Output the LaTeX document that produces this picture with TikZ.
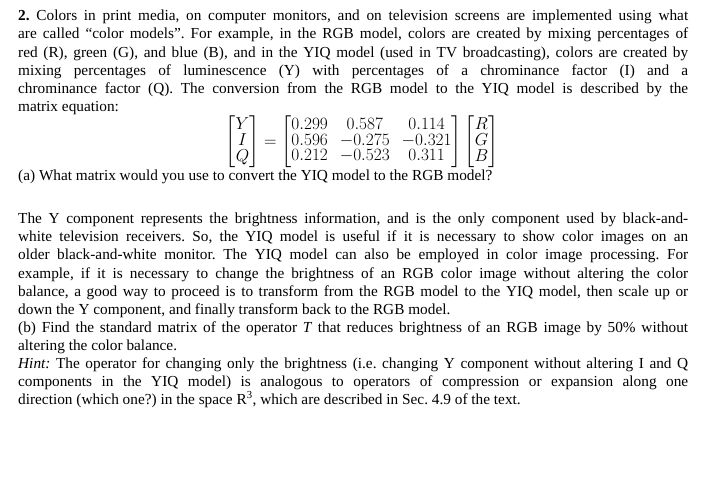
\documentclass[tikz,border=0pt]{standalone}
\usepackage{amsmath}
\usepackage{fontspec}
\setmainfont{Liberation Serif}
\frenchspacing
\begin{document}
\begin{tikzpicture}[x=1pt,y=1pt,
  ln/.style={anchor=base west,inner sep=0pt,font=\fontsize{15.3}{17}\selectfont\frenchspacing}]
\useasboundingbox (0,0) rectangle (714,-489);
\newcommand{\J}[1]{\makebox[670pt][s]{#1}}
\node[ln] (l1) at (18,-21) {\J{\textbf{2.} Colors in print media, on computer monitors, and on television screens are implemented using what}};
\node[ln] (l2) at (18,-39) {\J{are called “color models”. For example, in the RGB model, colors are created by mixing percentages of}};
\node[ln] (l3) at (18,-57.5) {\J{red (R), green (G), and blue (B), and in the YIQ model (used in TV broadcasting), colors are created by}};
\node[ln] (l4) at (18,-76) {\J{mixing percentages of luminescence (Y) with percentages of a chrominance factor (I) and a}};
\node[ln] (l5) at (18,-94) {\J{chrominance factor (Q). The conversion from the RGB model to the YIQ model is described by the}};
\node[ln] (l6) at (18,-112) {matrix equation:};
\node[inner sep=0pt,font=\fontsize{17}{18}\selectfont] (m) at (362,-142) {$\renewcommand{\arraystretch}{0.82}\setlength{\arraycolsep}{6pt}
\begin{bmatrix}Y\\ I\\ Q\end{bmatrix}=\begin{bmatrix}0.299&0.587&0.114\\ 0.596&-0.275&-0.321\\ 0.212&-0.523&0.311\end{bmatrix}\begin{bmatrix}R\\ G\\ B\end{bmatrix}$};
\node[ln] (a) at (18,-181) {(a) What matrix would you use to convert the YIQ model to the RGB model?};
\node[ln] (p1) at (18,-223) {\J{The Y component represents the brightness information, and is the only component used by black-and-}};
\node[ln] (p2) at (18,-241) {\J{white television receivers. So, the YIQ model is useful if it is necessary to show color images on an}};
\node[ln] (p3) at (18,-259.5) {\J{older black-and-white monitor. The YIQ model can also be employed in color image processing. For}};
\node[ln] (p4) at (18,-278) {\J{example, if it is necessary to change the brightness of an RGB color image without altering the color}};
\node[ln] (p5) at (18,-296) {\J{balance, a good way to proceed is to transform from the RGB model to the YIQ model, then scale up or}};
\node[ln] (p6) at (18,-314) {down the Y component, and finally transform back to the RGB model.};
\node[ln] (b1) at (18,-332) {\J{(b) Find the standard matrix of the operator \textit{T} that reduces brightness of an RGB image by 50\% without}};
\node[ln] (b2) at (18,-350) {altering the color balance.};
\node[ln] (h1) at (18,-368) {\J{\textit{Hint:} The operator for changing only the brightness (i.e. changing Y component without altering I and Q}};
\node[ln] (h2) at (18,-386) {\J{components in the YIQ model) is analogous to operators of compression or expansion along one}};
\node[ln] (h3) at (18,-404) {direction (which one?) in the space R\textsuperscript{3}, which are described in Sec. 4.9 of the text.};
\end{tikzpicture}
\end{document}
